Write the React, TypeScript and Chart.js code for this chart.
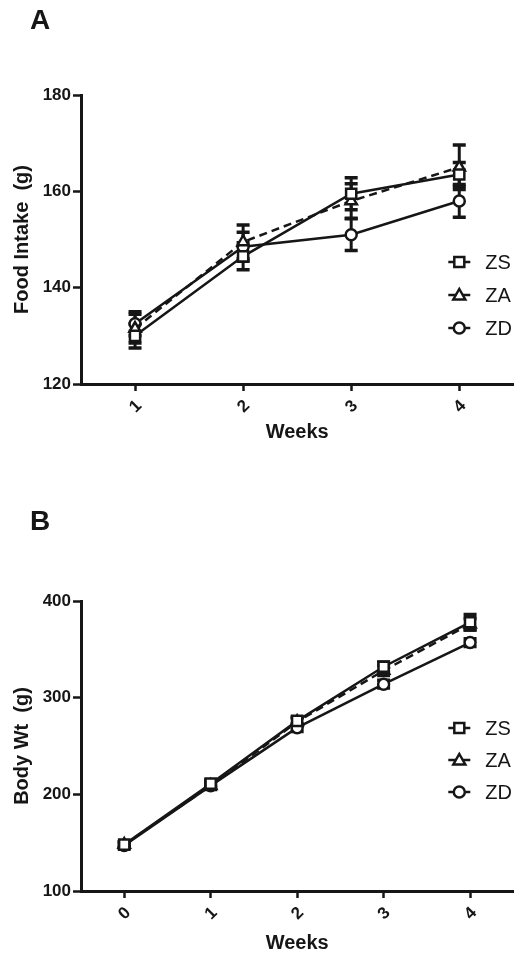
import React, { useEffect, useRef } from 'react';
import { Chart, registerables } from 'chart.js';
Chart.register(...registerables);

// ---- Panel A: Food intake ----
const weeksA = ['1', '2', '3', '4'];
const zsA = [130, 146.5, 159.5, 163.5];
const zsAErr = [2.5, 2.8, 3.3, 2.5];
const zaA = [131.5, 149.5, 158, 165];
const zaAErr = [3, 3.5, 3.6, 4.6];
const zdA = [132.5, 148.5, 151, 158];
const zdAErr = [2.5, 3, 3.3, 3.4];
const yTicksA = [120, 140, 160, 180];

// ---- Panel B: Body weight ----
const weeksB = ['0', '1', '2', '3', '4'];
const zsB = [148, 211, 276, 332, 378];
const zsBErr = [3, 4, 4, 5, 8];
const zaB = [148, 209, 275, 328, 376];
const zaBErr = [3, 4, 4, 5, 6];
const zdB = [147, 209, 269, 314, 357];
const zdBErr = [3, 3, 4, 4, 4];
const yTicksB = [100, 200, 300, 400];

const seriesNames = ['ZS', 'ZA', 'ZD'];
const seriesStyles = ['rect', 'triangle', 'circle'];
const seriesDash = [[], [8, 5], []];

const INK = '#161616';
const FONT = "'Liberation Sans', Arial, sans-serif";

function drawMarker(ctx: CanvasRenderingContext2D, style: string, x: number, y: number) {
  ctx.save();
  ctx.fillStyle = '#fff';
  ctx.strokeStyle = INK;
  ctx.lineWidth = 2.5;
  ctx.beginPath();
  if (style === 'rect') {
    ctx.rect(x - 5, y - 5, 10, 10);
  } else if (style === 'triangle') {
    ctx.moveTo(x, y - 6);
    ctx.lineTo(x + 6, y + 4.5);
    ctx.lineTo(x - 6, y + 4.5);
    ctx.closePath();
  } else {
    ctx.arc(x, y, 5.5, 0, Math.PI * 2);
  }
  ctx.fill();
  ctx.stroke();
  ctx.restore();
}

const errorBarPlugin = {
  id: 'errorBars',
  beforeDatasetsDraw(chart: any) {
    const ctx = chart.ctx;
    const ys = chart.scales.y;
    chart.data.datasets.forEach((ds: any, di: number) => {
      const errs = ds.errors;
      if (!errs) return;
      const meta = chart.getDatasetMeta(di);
      ctx.save();
      ctx.strokeStyle = INK;
      meta.data.forEach((pt: any, i: number) => {
        const v = ds.data[i];
        const e = errs[i];
        const top = ys.getPixelForValue(v + e);
        const bot = ys.getPixelForValue(v - e);
        ctx.lineWidth = 3;
        ctx.beginPath();
        ctx.moveTo(pt.x, top);
        ctx.lineTo(pt.x, bot);
        ctx.stroke();
        ctx.lineWidth = 3.5;
        ctx.beginPath();
        ctx.moveTo(pt.x - 6.5, top);
        ctx.lineTo(pt.x + 6.5, top);
        ctx.moveTo(pt.x - 6.5, bot);
        ctx.lineTo(pt.x + 6.5, bot);
        ctx.stroke();
      });
      ctx.restore();
    });
  },
};

const insetLegendPlugin = {
  id: 'insetLegend',
  afterDraw(chart: any) {
    const opts = chart.options.plugins.insetLegend;
    if (!opts) return;
    const ctx = chart.ctx;
    const area = chart.chartArea;
    const cx = area.right - 54;
    chart.data.datasets.forEach((ds: any, i: number) => {
      const y = area.top + opts.top + i * opts.gap;
      ctx.save();
      ctx.strokeStyle = INK;
      ctx.lineWidth = 2.5;
      ctx.beginPath();
      ctx.moveTo(cx - 11, y);
      ctx.lineTo(cx + 11, y);
      ctx.stroke();
      ctx.restore();
      drawMarker(ctx, seriesStyles[i], cx, y);
      ctx.save();
      ctx.fillStyle = INK;
      ctx.font = `20px ${FONT}`;
      ctx.textBaseline = 'middle';
      ctx.textAlign = 'left';
      ctx.fillText(ds.label, cx + 26, y + 1);
      ctx.restore();
    });
  },
};

type PanelProps = {
  labels: string[];
  series: number[][];
  errors: number[][];
  yTicks: number[];
  yTitle: string;
  height: number;
  padTop: number;
  xHeight: number;
  legendTop: number;
  legendGap: number;
  top: number;
};

function Panel(p: PanelProps) {
  const ref = useRef<HTMLCanvasElement>(null);
  useEffect(() => {
    if (!ref.current) return;
    const yMin = p.yTicks[0];
    const yMax = p.yTicks[p.yTicks.length - 1];
    const step = p.yTicks[1] - p.yTicks[0];
    const chart = new Chart(ref.current, {
      type: 'line',
      data: {
        labels: p.labels,
        datasets: p.series.map((d, i) => ({
          label: seriesNames[i],
          data: d,
          errors: p.errors[i],
          borderColor: INK,
          borderWidth: 2.5,
          borderDash: seriesDash[i],
          pointStyle: seriesStyles[i],
          pointRadius: seriesStyles[i] === 'rect' ? 7.2 : seriesStyles[i] === 'triangle' ? 6.5 : 5.5,
          pointBorderWidth: 2.5,
          pointBackgroundColor: '#fff',
          pointBorderColor: INK,
          fill: false,
          tension: 0,
        })) as any,
      },
      options: {
        animation: false,
        responsive: false,
        maintainAspectRatio: false,
        layout: { padding: { top: p.padTop, left: 0, right: 9, bottom: 0 } },
        plugins: {
          legend: { display: false },
          tooltip: { enabled: false },
          insetLegend: { top: p.legendTop, gap: p.legendGap },
        } as any,
        scales: {
          x: {
            type: 'category',
            offset: true,
            grid: {
              offset: false,
              drawOnChartArea: false,
              drawTicks: true,
              tickLength: 7,
              tickWidth: 2.5,
              tickColor: INK,
              color: INK,
            },
            border: { display: true, width: 3, color: INK },
            ticks: {
              minRotation: 45,
              maxRotation: 45,
              padding: 5,
              labelOffset: 4,
              color: INK,
              font: { family: FONT, size: 17, weight: 'bold' },
            },
            title: {
              display: true,
              text: 'Weeks',
              color: INK,
              padding: { top: 0, bottom: 4 },
              font: { family: FONT, size: 20, weight: 'bold' },
            },
            afterFit: (s: any) => {
              s.height = p.xHeight;
            },
          },
          y: {
            min: yMin,
            max: yMax,
            ticks: {
              stepSize: step,
              padding: 2,
              color: INK,
              font: { family: FONT, size: 17, weight: 'bold' },
            },
            grid: {
              drawOnChartArea: false,
              drawTicks: true,
              tickLength: 8,
              tickWidth: 2.5,
              tickColor: INK,
              color: INK,
            },
            border: { display: true, width: 3, color: INK },
            title: {
              display: true,
              text: p.yTitle,
              color: INK,
              padding: { top: 10, bottom: 0 },
              font: { family: FONT, size: 20, weight: 'bold' },
            },
            afterFit: (s: any) => {
              s.width = 81;
            },
          },
        },
      } as any,
      plugins: [errorBarPlugin, insetLegendPlugin],
    });
    return () => chart.destroy();
  }, []);
  return (
    <canvas
      ref={ref}
      width={523}
      height={p.height}
      style={{ position: 'absolute', left: 0, top: p.top, width: 523, height: p.height }}
    />
  );
}

export default function App() {
  const letter: React.CSSProperties = {
    position: 'absolute',
    left: 30,
    fontFamily: FONT,
    fontWeight: 'bold',
    fontSize: 28,
    lineHeight: '28px',
    color: INK,
  };
  return (
    <div style={{ position: 'absolute', left: 0, top: 0, width: 523, height: 957, background: '#fff', overflow: 'hidden' }}>
      <Panel
        labels={weeksA}
        series={[zsA, zaA, zdA]}
        errors={[zsAErr, zaAErr, zdAErr]}
        yTicks={yTicksA}
        yTitle="Food Intake  (g)"
        height={448}
        padTop={95}
        xHeight={64}
        legendTop={167}
        legendGap={33}
        top={0}
      />
      <Panel
        labels={weeksB}
        series={[zsB, zaB, zdB]}
        errors={[zsBErr, zaBErr, zdBErr]}
        yTicks={yTicksB}
        yTitle="Body Wt  (g)"
        height={479}
        padTop={121}
        xHeight={68}
        legendTop={127}
        legendGap={32}
        top={480}
      />
      <div style={{ ...letter, top: 6 }}>A</div>
      <div style={{ ...letter, top: 507 }}>B</div>
    </div>
  );
}
